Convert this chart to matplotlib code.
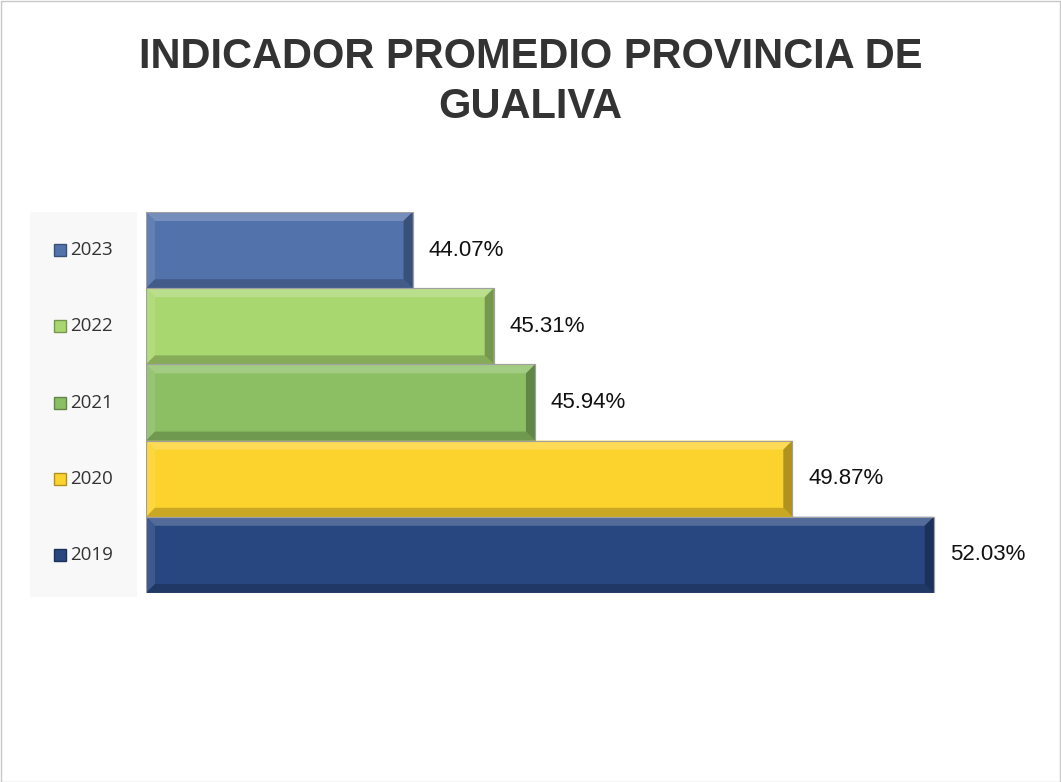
import matplotlib.pyplot as plt
from matplotlib.patches import Rectangle, Polygon
from matplotlib.colors import to_rgb
import matplotlib.transforms as mtransforms

# datos del gráfico
years = ["2019", "2020", "2021", "2022", "2023"]
values = [52.03, 49.87, 45.94, 45.31, 44.07]
colors = ["#28467f", "#fcd22c", "#8cbf64", "#a9d76f", "#5272ab"]
title = "INDICADOR PROMEDIO PROVINCIA DE\nGUALIVA"

W, H = 1061, 782
fig = plt.figure(figsize=(W / 100, H / 100), dpi=100)
fig.patch.set_facecolor("white")

# borde exterior
fig.patches.append(Rectangle((0.5 / W, 0.5 / H), 1 - 1.5 / W, 1 - 1.5 / H,
                             transform=fig.transFigure, fill=False,
                             edgecolor="#c8c8c8", lw=1, zorder=-2))

# panel gris de la leyenda/categorías
fig.patches.append(Rectangle((30 / W, 1 - 597 / H), 107 / W, 385 / H,
                             transform=fig.transFigure, facecolor="#f8f8f8",
                             edgecolor="none", zorder=-1))

x0, x1 = 146, 1030
ax = fig.add_axes([x0 / W, 1 - 593 / H, (x1 - x0) / W, 381 / H])
ax.set_xlim(40, 53.5)
ax.set_ylim(-0.5, 4.5)
ax.axis("off")


def shade(c, f):
    r, g, b = to_rgb(c)
    if f > 0:
        return (r + (1 - r) * f, g + (1 - g) * f, b + (1 - b) * f)
    return (r * (1 + f), g * (1 + f), b * (1 + f))


px_x = (53.5 - 40) / (x1 - x0)
px_y = 5 / 381
bev = 9

ax.barh(range(len(years)), values, height=1.0, left=0,
        color=colors, edgecolor="#9a9a9a", linewidth=0.8, zorder=2)

for i, (v, c) in enumerate(zip(values, colors)):
    xl, xr = 40, v
    yb, yt = i - 0.5, i + 0.5
    dx, dy = bev * px_x, bev * px_y
    inner = [(xl + dx, yb + dy), (xr - dx, yb + dy), (xr - dx, yt - dy), (xl + dx, yt - dy)]
    faces = [
        ([(xl, yt), (xr, yt), inner[2], inner[3]], shade(c, 0.2)),    # arriba
        ([(xl, yb), (xl, yt), inner[3], inner[0]], shade(c, 0.1)),    # izquierda
        ([(xl, yb), (xr, yb), inner[1], inner[0]], shade(c, -0.2)),   # abajo
        ([(xr, yb), (xr, yt), inner[2], inner[1]], shade(c, -0.3)),   # derecha
    ]
    for pts, fc in faces:
        ax.add_patch(Polygon(pts, closed=True, facecolor=fc, edgecolor="none", zorder=3))
    ax.add_patch(Rectangle((xl, yb), xr - xl, yt - yb, fill=False,
                           edgecolor="#a0a0a0", lw=0.8, zorder=4))
    ax.annotate(f"{v:.2f}%", (v, i), xytext=(11.5, 0), textcoords="offset points",
                ha="left", va="center", fontsize=16,
                family=["Liberation Sans Narrow", "Liberation Sans"], color="#111111")

# etiquetas de categoría con marcador cuadrado
trans = mtransforms.blended_transform_factory(ax.transAxes, ax.transData)
for i, (y, c) in enumerate(zip(years, colors)):
    ax.plot([(60 - x0) / (x1 - x0)], [i], marker="s", markersize=9,
            markerfacecolor=c, markeredgecolor=shade(c, -0.3), markeredgewidth=1,
            transform=trans, clip_on=False, zorder=5)
    ax.text((70 - x0) / (x1 - x0), i, y, transform=trans, ha="left", va="center",
            fontsize=13.5, family="Open Sans", color="#333333", clip_on=False)

fig.text(0.5, 1 - 82 / H, title, ha="center", va="center", fontsize=30,
         fontweight="bold", family=["Liberation Sans Narrow", "Liberation Sans"],
         color="#333333", linespacing=1.3)

fig.savefig("out.png", dpi=100)
